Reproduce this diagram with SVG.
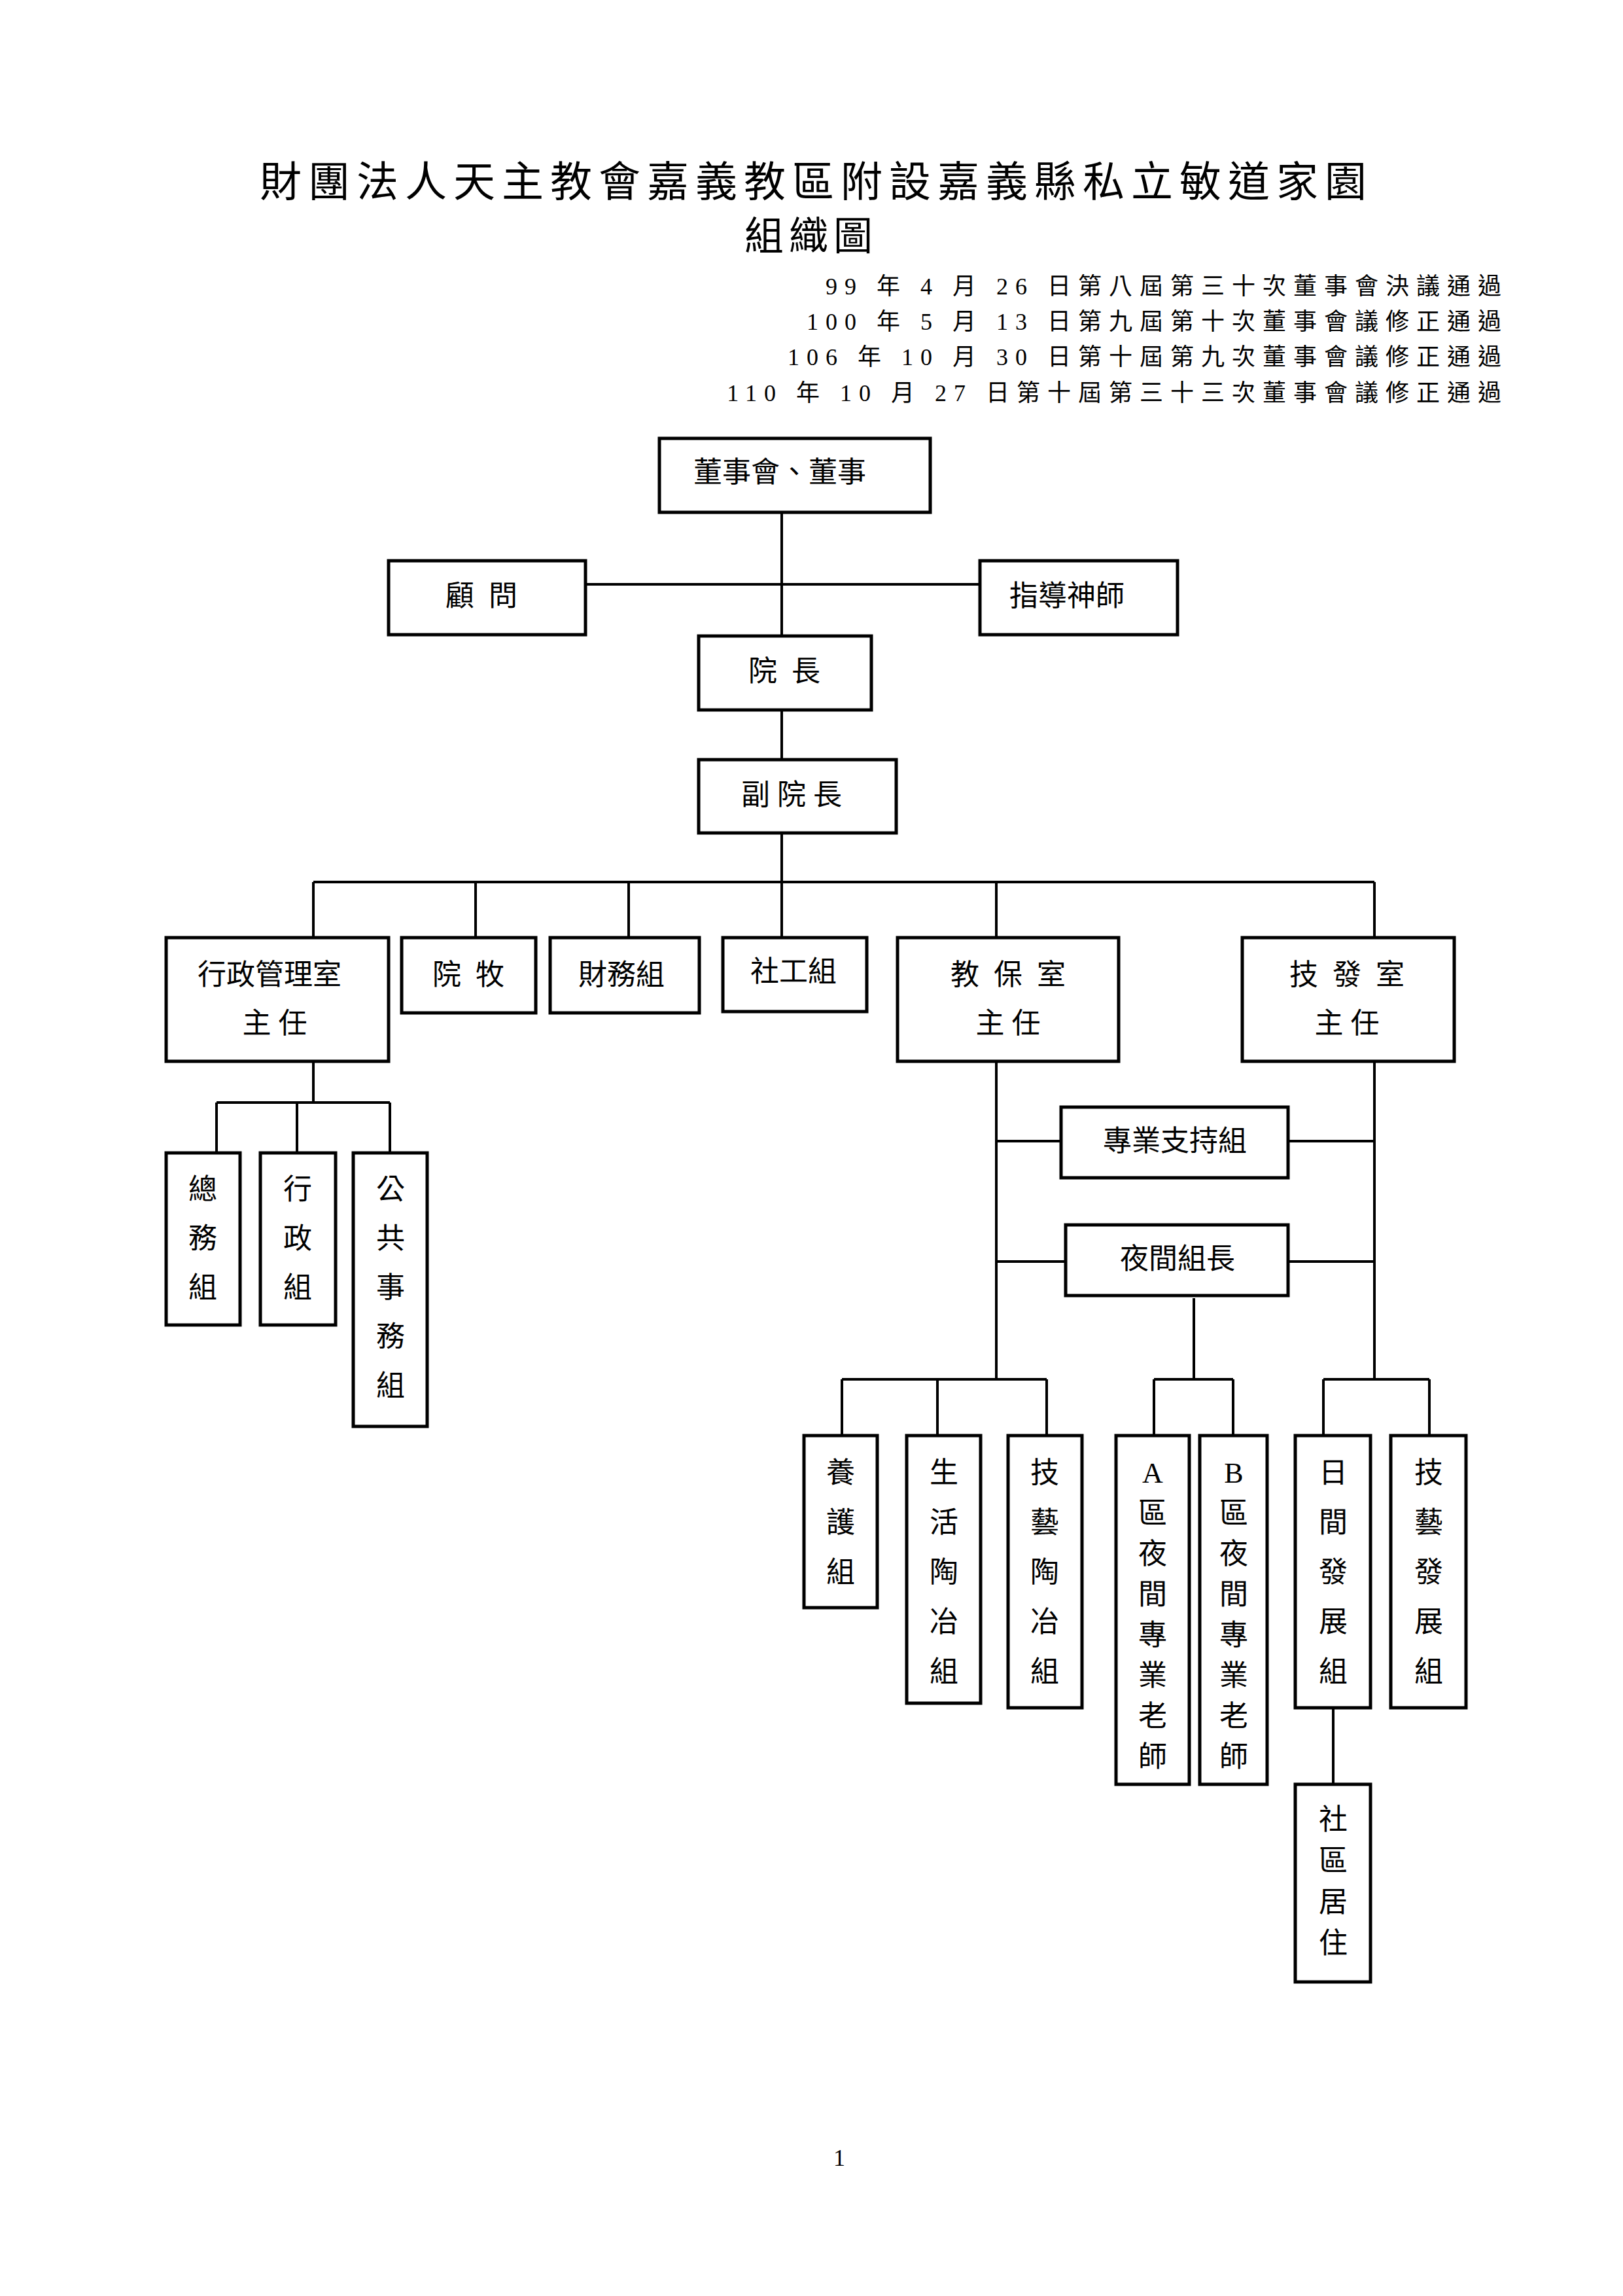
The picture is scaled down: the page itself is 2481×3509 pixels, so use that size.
<svg xmlns="http://www.w3.org/2000/svg" width="2481" height="3509" viewBox="0 0 2481 3509" xml:space="preserve">
<style>
text{font-family:"Liberation Serif","Noto Sans CJK TC",serif;fill:#000;white-space:pre}
.t{font-size:44px;text-anchor:middle;dominant-baseline:central}
.v{font-size:44px;text-anchor:middle}
.b{fill:#fff;stroke:#000;stroke-width:5}
.c{stroke:#000;stroke-width:4;fill:none}
</style>
<rect width="2481" height="3509" fill="#fff"/>
<text x="1248" y="300" font-size="64" text-anchor="middle" letter-spacing="10">財團法人天主教會嘉義教區附設嘉義縣私立敏道家園</text>
<text x="1240" y="382" font-size="60" text-anchor="middle" letter-spacing="8">組織圖</text>
<g font-size="36" text-anchor="end" letter-spacing="11">
<text x="2306" y="450">99 年 4 月 26 日第八屆第三十次董事會決議通過</text>
<text x="2306" y="504">100 年 5 月 13 日第九屆第十次董事會議修正通過</text>
<text x="2306" y="558">106 年 10 月 30 日第十屆第九次董事會議修正通過</text>
<text x="2306" y="613">110 年 10 月 27 日第十屆第三十三次董事會議修正通過</text>
</g>
<g id="connectors">
<path class="c" d="M1195 783V972M895 893H1498M1195 1085V1161M1195 1273V1433"/>
<path class="c" d="M479 1348H2101M479 1348V1433M727 1348V1433M961 1348V1433M1523 1348V1433M2101 1348V1433"/>
<path class="c" d="M479 1622V1685M331 1685H596M331 1685V1762M454 1685V1762M596 1685V1762"/>
<path class="c" d="M1523 1622V2108M2101 1622V2108M1523 1744H1622M1969 1744H2101M1523 1928H1629M1969 1928H2101"/>
<path class="c" d="M1287 2108H1600M1287 2108V2194M1433 2108V2194M1600 2108V2194"/>
<path class="c" d="M1825 1984V2108M1764 2108H1885M1764 2108V2194M1885 2108V2194"/>
<path class="c" d="M2023 2108H2185M2023 2108V2194M2185 2108V2194M2038 2610V2727"/>
</g>
<g id="n1"><rect class="b" x="1008" y="670" width="414" height="113"/><text class="t" x="1192" y="722">董事會、董事</text></g>
<g id="n2"><rect class="b" x="594" y="857" width="301" height="113"/><text class="t" x="736" y="911">顧  問</text></g>
<g id="n3"><rect class="b" x="1498" y="857" width="302" height="113"/><text class="t" x="1631" y="911">指導神師</text></g>
<g id="n4"><rect class="b" x="1068" y="972" width="264" height="113"/><text class="t" x="1199" y="1026">院  長</text></g>
<g id="n5"><rect class="b" x="1068" y="1161" width="302" height="112"/><text class="t" x="1210" y="1215">副 院 長</text></g>
<g id="n6"><rect class="b" x="254" y="1433" width="340" height="189"/><text class="t" x="412" y="1490">行政管理室</text><text class="t" x="420" y="1564">主 任</text></g>
<g id="n7"><rect class="b" x="614" y="1433" width="205" height="115"/><text class="t" x="716" y="1490">院  牧</text></g>
<g id="n8"><rect class="b" x="841" y="1433" width="228" height="115"/><text class="t" x="950" y="1490">財務組</text></g>
<g id="n9"><rect class="b" x="1105" y="1433" width="220" height="113"/><text class="t" x="1213" y="1485">社工組</text></g>
<g id="n10"><rect class="b" x="1372" y="1433" width="338" height="189"/><text class="t" x="1541" y="1490">教  保  室</text><text class="t" x="1541" y="1564">主 任</text></g>
<g id="n11"><rect class="b" x="1899" y="1433" width="324" height="189"/><text class="t" x="2059" y="1490">技  發  室</text><text class="t" x="2059" y="1564">主 任</text></g>
<g id="n12"><rect class="b" x="1622" y="1692" width="347" height="108"/><text class="t" x="1796" y="1744">專業支持組</text></g>
<g id="n13"><rect class="b" x="1629" y="1872" width="340" height="108"/><text class="t" x="1800" y="1924">夜間組長</text></g>
<g id="n14"><rect class="b" x="254" y="1762" width="113" height="263"/><text class="v" x="310" y="1833"><tspan x="310">總</tspan><tspan x="310" dy="75">務</tspan><tspan x="310" dy="75">組</tspan></text></g>
<g id="n15"><rect class="b" x="398" y="1762" width="115" height="263"/><text class="v" x="455" y="1833"><tspan x="455">行</tspan><tspan x="455" dy="75">政</tspan><tspan x="455" dy="75">組</tspan></text></g>
<g id="n16"><rect class="b" x="540" y="1762" width="113" height="418"/><text class="v" x="597" y="1833"><tspan x="597">公</tspan><tspan x="597" dy="75">共</tspan><tspan x="597" dy="75">事</tspan><tspan x="597" dy="75">務</tspan><tspan x="597" dy="75">組</tspan></text></g>
<g id="n17"><rect class="b" x="1229" y="2194" width="112" height="263"/><text class="v" x="1285" y="2266"><tspan x="1285">養</tspan><tspan x="1285" dy="76">護</tspan><tspan x="1285" dy="76">組</tspan></text></g>
<g id="n18"><rect class="b" x="1386" y="2194" width="113" height="409"/><text class="v" x="1443" y="2266"><tspan x="1443">生</tspan><tspan x="1443" dy="76">活</tspan><tspan x="1443" dy="76">陶</tspan><tspan x="1443" dy="76">冶</tspan><tspan x="1443" dy="76">組</tspan></text></g>
<g id="n19"><rect class="b" x="1541" y="2194" width="113" height="416"/><text class="v" x="1597" y="2266"><tspan x="1597">技</tspan><tspan x="1597" dy="76">藝</tspan><tspan x="1597" dy="76">陶</tspan><tspan x="1597" dy="76">冶</tspan><tspan x="1597" dy="76">組</tspan></text></g>
<g id="n20"><rect class="b" x="1706" y="2194" width="112" height="533"/><text class="v" x="1762" y="2266"><tspan x="1762">A</tspan><tspan x="1762" dy="62">區</tspan><tspan x="1762" dy="62">夜</tspan><tspan x="1762" dy="62">間</tspan><tspan x="1762" dy="62">專</tspan><tspan x="1762" dy="62">業</tspan><tspan x="1762" dy="62">老</tspan><tspan x="1762" dy="62">師</tspan></text></g>
<g id="n21"><rect class="b" x="1834" y="2194" width="103" height="533"/><text class="v" x="1886" y="2266"><tspan x="1886">B</tspan><tspan x="1886" dy="62">區</tspan><tspan x="1886" dy="62">夜</tspan><tspan x="1886" dy="62">間</tspan><tspan x="1886" dy="62">專</tspan><tspan x="1886" dy="62">業</tspan><tspan x="1886" dy="62">老</tspan><tspan x="1886" dy="62">師</tspan></text></g>
<g id="n22"><rect class="b" x="1980" y="2194" width="115" height="416"/><text class="v" x="2038" y="2266"><tspan x="2038">日</tspan><tspan x="2038" dy="76">間</tspan><tspan x="2038" dy="76">發</tspan><tspan x="2038" dy="76">展</tspan><tspan x="2038" dy="76">組</tspan></text></g>
<g id="n23"><rect class="b" x="2126" y="2194" width="115" height="416"/><text class="v" x="2184" y="2266"><tspan x="2184">技</tspan><tspan x="2184" dy="76">藝</tspan><tspan x="2184" dy="76">發</tspan><tspan x="2184" dy="76">展</tspan><tspan x="2184" dy="76">組</tspan></text></g>
<g id="n24"><rect class="b" x="1980" y="2727" width="115" height="302"/><text class="v" x="2038" y="2796"><tspan x="2038">社</tspan><tspan x="2038" dy="63">區</tspan><tspan x="2038" dy="63">居</tspan><tspan x="2038" dy="63">住</tspan></text></g>
<text x="1283" y="3310" font-size="36" text-anchor="middle">1</text>
</svg>
